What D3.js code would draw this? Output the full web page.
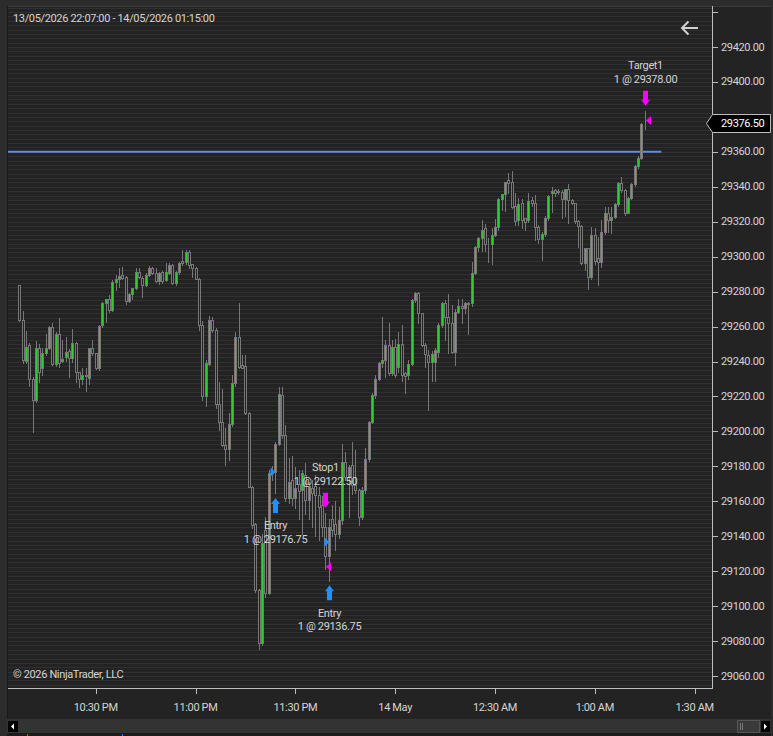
<!DOCTYPE html>
<html>
<head>
<meta charset="utf-8">
<script src="https://cdn.jsdelivr.net/npm/d3@7"></script>
<style>
  html, body { margin: 0; padding: 0; background: #2c2c2c; }
  svg { display: block; font-family: "Segoe UI", Roboto, "Noto Sans", sans-serif; }
  svg text { letter-spacing: -0.35px; }
</style>
</head>
<body>
<svg id="chart"></svg>
<script>
const width = 773, height = 736;
const plot = { left: 8, top: 6, right: 712, bottom: 688 };

// 1 minute bars, 13/05/2026 22:07 -> 14/05/2026 01:15
const startTime = new Date(2026, 4, 13, 22, 7);
const endTime = new Date(2026, 4, 14, 1, 15);

const opens = [
  29283.75, 29263.5, 29240.5, 29249.5, 29230.25, 29218.25, 29248, 29236, 29245, 29248,
  29260, 29238.5, 29256, 29240.5, 29242.75, 29246, 29241.75, 29250.5, 29233.75, 29229.75,
  29232.25, 29230.75, 29247.5, 29244.75, 29236.5, 29260.75, 29273.25, 29275.5, 29269.75, 29285.75,
  29287, 29289.5, 29288.5, 29274.75, 29278.5, 29282.25, 29291.5, 29288, 29283.75, 29289.5,
  29293.25, 29290.75, 29286.25, 29291.5, 29286.5, 29290.75, 29295.25, 29285, 29291.5, 29297.75,
  29297, 29302.75, 29295.75, 29293.25, 29287.5, 29261, 29220.25, 29238.5, 29264, 29258,
  29215.5, 29205.5, 29192.25, 29189.75, 29204.25, 29227.5, 29254.25, 29238, 29237.5, 29210.75,
  29168.25, 29147, 29109.25, 29078.75, 29143.5, 29107.25, 29176, 29176.75, 29193, 29220.75,
  29198, 29161.75, 29172, 29161.75, 29170, 29166.5, 29175, 29160.75, 29167.5, 29168.5,
  29163.5, 29157.75, 29145, 29128.75, 29150, 29147, 29141.5, 29149.25, 29182.5, 29174,
  29180.75, 29169.25, 29166.5, 29151.25, 29166.5, 29184, 29205.5, 29220.75, 29230.25, 29239,
  29240.75, 29249.5, 29233.25, 29248.5, 29237, 29250, 29233.25, 29232.25, 29238.5, 29275.25,
  29279, 29267.5, 29249.5, 29243.75, 29240, 29240, 29245.5, 29261, 29273.25, 29265.5,
  29261.75, 29245.5, 29268.5, 29271.5, 29270.5, 29273.5, 29273.25, 29290.75, 29305.25, 29310.5,
  29316.25, 29307.5, 29307.25, 29312.5, 29317.25, 29332.75, 29336, 29344, 29343, 29329,
  29321, 29330.5, 29322, 29321, 29332.5, 29330.5, 29317.25, 29310, 29313.25, 29322,
  29336.25, 29338, 29337.75, 29337.25, 29332.75, 29338.5, 29332.5, 29331, 29320.5, 29317.5,
  29296.25, 29304.75, 29288.5, 29312.5, 29299, 29297, 29314.25, 29324.75, 29321.25, 29322.5,
  29330, 29342, 29338, 29325.25, 29333.5, 29341.5, 29352, 29356.75, 29376.25
];
const highs = [
  29284, 29269, 29257.5, 29250.5, 29231, 29251.75, 29250, 29248, 29255.75, 29260.25,
  29262, 29257, 29264.75, 29252.5, 29253.75, 29247, 29258.5, 29251, 29234, 29236,
  29236.5, 29248, 29252.25, 29245, 29261, 29274, 29276, 29278, 29286.5, 29289.5,
  29293.25, 29294.25, 29289, 29279, 29282, 29293.25, 29293.25, 29289, 29290.75, 29294.5,
  29294, 29293.25, 29291, 29291.75, 29296.25, 29296.25, 29296, 29292, 29297, 29303.75,
  29303.75, 29304, 29296, 29294, 29288, 29263.25, 29240.75, 29266, 29265.5, 29259,
  29228.5, 29224, 29201.75, 29210.25, 29232.25, 29257, 29273.25, 29243.75, 29243.75, 29211,
  29169, 29147.75, 29110, 29141.5, 29151.25, 29178, 29180, 29194, 29225.5, 29225.5,
  29203.5, 29184.5, 29186, 29179.75, 29178, 29178, 29181.75, 29171.25, 29172, 29175,
  29168, 29163, 29153.5, 29150, 29158, 29160, 29157, 29193, 29188, 29181,
  29194, 29189.25, 29167, 29168, 29190.25, 29206, 29222, 29232, 29240, 29265.5,
  29252.25, 29261.75, 29252.25, 29253, 29257, 29261, 29234, 29240.75, 29276, 29279.5,
  29279.5, 29268, 29250.75, 29246.5, 29246, 29248, 29262, 29274.25, 29275, 29278.5,
  29272.25, 29270, 29276, 29276, 29274, 29274, 29297, 29306, 29311, 29321,
  29318.5, 29310.5, 29316.25, 29321.75, 29333.5, 29336, 29343, 29347.75, 29349.25, 29336.25,
  29333.5, 29332.75, 29322.25, 29336.25, 29334.25, 29335.25, 29318, 29314.25, 29323.25, 29335.25,
  29340, 29339, 29338.5, 29338, 29339, 29341.5, 29333, 29331, 29321, 29318,
  29305, 29305, 29317, 29316.25, 29311, 29321, 29328.5, 29328.5, 29328.5, 29331,
  29343, 29345.5, 29338.5, 29334, 29342, 29352.5, 29357.5, 29376.5, 29383.5
];
const lows = [
  29263.25, 29239, 29239, 29226, 29199.75, 29217, 29228.5, 29232, 29244, 29247,
  29238, 29237.5, 29237, 29239.75, 29240.5, 29231, 29240, 29228.5, 29225.25, 29227,
  29223.25, 29227, 29244, 29235.5, 29235, 29260, 29262.75, 29268.5, 29269, 29281,
  29282.75, 29287, 29272.75, 29274, 29276, 29281.75, 29288, 29276.75, 29283, 29289,
  29290, 29285.75, 29284.25, 29285, 29286, 29290, 29284.25, 29283.75, 29290, 29295,
  29296, 29293.25, 29288.5, 29287, 29258, 29218.25, 29214.75, 29238, 29257, 29213.25,
  29200.75, 29191.5, 29180.75, 29183.5, 29203, 29226, 29236, 29236, 29210, 29168,
  29144.5, 29108.25, 29075.25, 29077.75, 29105.5, 29107, 29172, 29164.5, 29192, 29196,
  29160, 29158.75, 29158, 29156, 29150, 29141.5, 29153, 29150, 29145, 29140,
  29138, 29140, 29121, 29114.5, 29140, 29132, 29139, 29147, 29172, 29151.25,
  29164, 29165, 29146.5, 29150, 29165, 29183, 29205, 29219, 29229.5, 29237,
  29231.25, 29232.25, 29232, 29231.25, 29234, 29229, 29221.75, 29230.25, 29238, 29274,
  29261.75, 29249, 29237, 29212.25, 29229, 29229, 29242.75, 29260, 29252.25, 29245,
  29245, 29238, 29268, 29261.75, 29268, 29256, 29272, 29290, 29303, 29303,
  29303, 29297, 29296, 29312, 29315.25, 29326.75, 29326.25, 29336.25, 29327.75, 29318,
  29318, 29316.25, 29315.25, 29320, 29329, 29309.5, 29308, 29298, 29312, 29321,
  29325.75, 29335, 29336, 29322, 29323, 29319, 29330, 29319, 29305.25, 29295.75,
  29292.25, 29281.25, 29287.5, 29296, 29284, 29294, 29313, 29314.25, 29313.75, 29322,
  29329, 29337, 29324, 29324.75, 29333, 29340.5, 29351, 29356, 29373
];
const closes = [
  29263.5, 29240.75, 29248.5, 29230.25, 29218.25, 29248, 29234.25, 29245, 29248, 29259.5,
  29238.5, 29255.75, 29239, 29241.5, 29245.5, 29241.75, 29250.75, 29233.75, 29229.75, 29232.25,
  29231.5, 29247.5, 29244.75, 29236, 29260.25, 29273.25, 29275.5, 29269.75, 29285.75, 29287,
  29289, 29288, 29274.75, 29278.5, 29282, 29291.5, 29288.5, 29283.5, 29289.5, 29293.25,
  29290.75, 29286.25, 29290.75, 29286.25, 29291.5, 29295.5, 29285, 29291.5, 29296.5, 29296.5,
  29302.75, 29295.25, 29293.25, 29287.5, 29261, 29220.25, 29239, 29264, 29258, 29215.5,
  29205.5, 29192.25, 29189.75, 29204.25, 29227.5, 29253.75, 29237, 29236.5, 29210.75, 29168.25,
  29146.5, 29109.25, 29078.75, 29136, 29107.75, 29176, 29177, 29193, 29221.5, 29198,
  29161.75, 29171.25, 29161.75, 29167.5, 29166, 29176, 29160.75, 29168.5, 29164.5, 29163.5,
  29157, 29145, 29128.75, 29145.5, 29143.5, 29141.5, 29149.25, 29182.5, 29174, 29179.75,
  29169.25, 29166.5, 29151.25, 29166.5, 29184, 29205.5, 29220.75, 29230.25, 29239, 29240.75,
  29249.5, 29233.25, 29248.5, 29232.25, 29250, 29232.25, 29231.5, 29238.5, 29275.25, 29279,
  29267.5, 29249.5, 29244.5, 29240, 29244.5, 29246.5, 29261, 29273.25, 29265.5, 29261.75,
  29245.5, 29268.5, 29271.5, 29270.5, 29273.5, 29273, 29290.75, 29305.25, 29310.5, 29315.25,
  29307.5, 29307, 29312.5, 29317.25, 29332.75, 29336, 29343, 29342.25, 29328.5, 29320.5,
  29330, 29321, 29320, 29332, 29330.5, 29317.25, 29310, 29313.25, 29322, 29334.75,
  29337.75, 29336.25, 29337.25, 29332.75, 29338.5, 29332.5, 29331, 29320.5, 29317.5, 29296.25,
  29304.75, 29288.5, 29312.5, 29297.5, 29297, 29314.25, 29324.75, 29321.25, 29322.5, 29330,
  29342.25, 29338, 29325.25, 29333.5, 29341.5, 29352, 29356.75, 29376, 29376.5
];

// executions (bar index, action, name, quantity, price)
const execBars = [77, 92, 93, 188];
const execSides = ["buy", "sell", "buy", "sell"];
const execNames = ["Entry", "Stop1", "Entry", "Target1"];
const execQty = [1, 1, 1, 1];
const execPrices = [29176.75, 29122.50, 29136.75, 29378.00];

// horizontal level line
const levelPrice = 29360;
const levelEnd = new Date(2026, 4, 14, 1, 20);

// axes
const yTicks = [29060, 29080, 29100, 29120, 29140, 29160, 29180, 29200, 29220, 29240,
  29260, 29280, 29300, 29320, 29340, 29360, 29380, 29400, 29420];
const yTopTick = [29440];
const xTicks = [
  new Date(2026, 4, 13, 22, 30), new Date(2026, 4, 13, 23, 0), new Date(2026, 4, 13, 23, 30),
  new Date(2026, 4, 14, 0, 0), new Date(2026, 4, 14, 0, 30), new Date(2026, 4, 14, 1, 0),
  new Date(2026, 4, 14, 1, 30)
];
const xTickLabels = ["10:30 PM", "11:00 PM", "11:30 PM", "14 May", "12:30 AM", "1:00 AM", "1:30 AM"];

const textColor = "#d4d4d4";
const axisColor = "#bdbdbd";
const wickColor = "#777777";
const upColor = "#32cd32";
const bgColor = "#232323";

const bars = opens.map((o, i) => ({
  time: d3.timeMinute.offset(startTime, i),
  open: o, high: highs[i], low: lows[i], close: closes[i]
}));

const x = d3.scaleTime().domain([startTime, endTime]).range([19.2, 644.7]);
const y = d3.scaleLinear().domain([29060, 29420]).range([676, 47]);

const svg = d3.select("#chart").attr("width", width).attr("height", height);

// frame
svg.append("rect").attr("width", width).attr("height", height).attr("fill", "#2c2c2c");
svg.append("rect").attr("x", 7).attr("y", 6).attr("width", 764).attr("height", 713).attr("fill", bgColor);
svg.append("line").attr("x1", 7).attr("x2", 771).attr("y1", 6.5).attr("y2", 6.5).attr("stroke", "#3a3a3a");
svg.append("line").attr("x1", 7.5).attr("x2", 7.5).attr("y1", 6).attr("y2", 719).attr("stroke", "#1a1a1a");

svg.append("defs").append("clipPath").attr("id", "plotclip")
  .append("rect")
  .attr("x", plot.left).attr("y", plot.top + 1)
  .attr("width", plot.right - plot.left).attr("height", plot.bottom - plot.top - 1);

// horizontal grid lines every 2.5 points
const gridVals = d3.range(29052.5, 29445, 2.5);
svg.append("g").attr("class", "grid")
  .selectAll("line")
  .data(gridVals)
  .join("line")
  .attr("x1", plot.left)
  .attr("x2", plot.right)
  .attr("y1", d => Math.round(y(d)) + 0.5)
  .attr("y2", d => Math.round(y(d)) + 0.5)
  .attr("stroke", "#303030")
  .attr("clip-path", "url(#plotclip)");

const chartG = svg.append("g").attr("clip-path", "url(#plotclip)");

// level line
chartG.append("line")
  .attr("x1", plot.left)
  .attr("x2", x(levelEnd))
  .attr("y1", y(levelPrice))
  .attr("y2", y(levelPrice))
  .attr("stroke", "#5b8fe0")
  .attr("stroke-width", 2);

// candles
const candle = chartG.append("g").attr("class", "candles")
  .selectAll("g")
  .data(bars)
  .join("g");

candle.append("line")
  .attr("x1", d => Math.round(x(d.time)) + 0.5)
  .attr("x2", d => Math.round(x(d.time)) + 0.5)
  .attr("y1", d => Math.round(y(d.high)))
  .attr("y2", d => Math.round(y(d.low)) + 1)
  .attr("stroke", wickColor);

candle.append("rect")
  .attr("x", d => Math.round(x(d.time)) - 0.5)
  .attr("width", 2)
  .attr("y", d => Math.round(y(Math.max(d.open, d.close))) + 0.5)
  .attr("height", d => Math.max(0, Math.round(y(Math.min(d.open, d.close))) - Math.round(y(Math.max(d.open, d.close)))))
  .attr("fill", d => d.close > d.open ? upColor : bgColor)
  .attr("stroke", wickColor);

// executions
const execs = execBars.map((b, i) => ({
  bar: bars[b], side: execSides[i], name: execNames[i], qty: execQty[i], price: execPrices[i]
}));

const execG = svg.append("g").attr("class", "executions");

execs.forEach(e => {
  const cx = Math.round(x(e.bar.time)) + 0.5;
  const color = e.side === "buy" ? "#1e90ff" : "#ff00ff";
  const py = y(e.price);

  // marker triangle at fill price
  if (e.side === "buy") {
    execG.append("path")
      .attr("d", `M${cx},${py} L${cx - 5},${py - 4.5} L${cx - 5},${py + 4.5} Z`)
      .attr("fill", color);
  } else {
    execG.append("path")
      .attr("d", `M${cx + 0.5},${py} L${cx + 5.5},${py - 4.5} L${cx + 5.5},${py + 4.5} Z`)
      .attr("fill", color);
  }

  // arrow
  let labelY1, labelY2;
  if (e.side === "buy") {
    const top = y(e.bar.low) + 4.5;
    execG.append("path")
      .attr("d", `M${cx},${top} L${cx + 4.5},${top + 6} L${cx + 2.5},${top + 6} L${cx + 2.5},${top + 15} ` +
                 `L${cx - 2.5},${top + 15} L${cx - 2.5},${top + 6} L${cx - 4.5},${top + 6} Z`)
      .attr("fill", color);
    labelY1 = top + 28;
    labelY2 = top + 41.5;
  } else {
    const bottom = y(e.bar.high) - 5;
    execG.append("path")
      .attr("d", `M${cx},${bottom} L${cx + 4.5},${bottom - 6} L${cx + 2.5},${bottom - 6} L${cx + 2.5},${bottom - 15} ` +
                 `L${cx - 2.5},${bottom - 15} L${cx - 2.5},${bottom - 6} L${cx - 4.5},${bottom - 6} Z`)
      .attr("fill", color);
    labelY1 = bottom - 40.5;
    labelY2 = bottom - 26.5;
  }

  execG.append("text")
    .attr("x", cx).attr("y", labelY1)
    .attr("text-anchor", "middle").attr("dominant-baseline", "central")
    .attr("fill", textColor).attr("font-size", 11)
    .text(e.name);
  execG.append("text")
    .attr("x", cx).attr("y", labelY2)
    .attr("text-anchor", "middle").attr("dominant-baseline", "central")
    .attr("fill", textColor).attr("font-size", 11)
    .text(`${e.qty} @ ${d3.format(".2f")(e.price)}`);
});

// current price
const last = bars[bars.length - 1];
const ly = Math.round(y(last.close)) + 0.5;

// y axis (right)
const yAxisG = svg.append("g").attr("class", "y-axis");
yAxisG.append("line")
  .attr("x1", plot.right + 0.5).attr("x2", plot.right + 0.5)
  .attr("y1", plot.top).attr("y2", plot.bottom + 1)
  .attr("stroke", axisColor);
yAxisG.selectAll("line.tick")
  .data(yTicks.concat(yTopTick))
  .join("line")
  .attr("class", "tick")
  .attr("x1", plot.right).attr("x2", plot.right + 6)
  .attr("y1", d => Math.round(y(d)) + 0.5)
  .attr("y2", d => Math.round(y(d)) + 0.5)
  .attr("stroke", axisColor);
// labels hidden where the price marker sits
yAxisG.selectAll("text")
  .data(yTicks.filter(d => Math.abs(y(d) - ly) > 14))
  .join("text")
  .attr("x", plot.right + 9)
  .attr("y", d => y(d))
  .attr("dominant-baseline", "central")
  .attr("fill", textColor)
  .attr("font-size", 11)
  .text(d => d3.format(".2f")(d));

// x axis (bottom)
const xAxisG = svg.append("g").attr("class", "x-axis");
xAxisG.append("line")
  .attr("x1", plot.left).attr("x2", plot.right + 1)
  .attr("y1", plot.bottom + 0.5).attr("y2", plot.bottom + 0.5)
  .attr("stroke", axisColor);
xAxisG.selectAll("line.tick")
  .data(xTicks)
  .join("line")
  .attr("class", "tick")
  .attr("x1", d => Math.round(x(d)) + 0.5)
  .attr("x2", d => Math.round(x(d)) + 0.5)
  .attr("y1", plot.bottom)
  .attr("y2", plot.bottom + 6)
  .attr("stroke", axisColor);
xAxisG.selectAll("text")
  .data(xTicks)
  .join("text")
  .attr("x", d => x(d))
  .attr("y", 707)
  .attr("text-anchor", "middle")
  .attr("dominant-baseline", "central")
  .attr("fill", textColor)
  .attr("font-size", 11)
  .text((d, i) => xTickLabels[i]);

// current price marker
svg.append("path")
  .attr("d", `M706.5,${ly} L712.5,${ly - 9} L770.5,${ly - 9} L770.5,${ly + 9} L712.5,${ly + 9} Z`)
  .attr("fill", "#000")
  .attr("stroke", "#bdbdbd");
svg.append("text")
  .attr("x", 721).attr("y", ly)
  .attr("dominant-baseline", "central")
  .attr("fill", "#ffffff")
  .attr("font-size", 11)
  .text(d3.format(".2f")(last.close));

// header, back arrow, copyright
const fmtHeader = d3.timeFormat("%d/%m/%Y %H:%M:%S");
svg.append("text")
  .attr("x", 13).attr("y", 18)
  .attr("dominant-baseline", "central")
  .attr("fill", textColor)
  .attr("font-size", 11)
  .text(`${fmtHeader(startTime)} - ${fmtHeader(endTime)}`);

svg.append("path")
  .attr("d", "M698,28 L682,28 M688.5,21.5 L682,28 L688.5,34.5")
  .attr("fill", "none")
  .attr("stroke", "#d0d0d0")
  .attr("stroke-width", 2);

svg.append("text")
  .attr("x", 13).attr("y", 674)
  .attr("dominant-baseline", "central")
  .attr("fill", textColor)
  .attr("font-size", 11)
  .text("\u00a9 2026 NinjaTrader, LLC");

// scrollbar
const sb = svg.append("g").attr("class", "scrollbar");
sb.append("rect").attr("x", 7).attr("y", 719).attr("width", 764).attr("height", 14).attr("fill", "#333333");
sb.append("rect").attr("x", 7).attr("y", 733).attr("width", 764).attr("height", 3).attr("fill", "#1c1c1c");
sb.append("rect").attr("x", 8).attr("y", 721).attr("width", 10).attr("height", 11).attr("fill", "#000");
sb.append("path").attr("d", "M11,726.5 L14,723.5 L14,729.5 Z").attr("fill", "#fff");
sb.append("rect").attr("x", 737.5).attr("y", 720.5).attr("width", 22).attr("height", 12)
  .attr("fill", "#3a3a3a").attr("stroke", "#555");
sb.append("path").attr("d", "M740.5,723 L740.5,730 M742.5,723 L742.5,730").attr("stroke", "#777");
sb.append("rect").attr("x", 761).attr("y", 721).attr("width", 9).attr("height", 11).attr("fill", "#000");
sb.append("path").attr("d", "M767,726.5 L764,723.5 L764,729.5 Z").attr("fill", "#fff");
sb.append("rect").attr("x", 27).attr("y", 734).attr("width", 1).attr("height", 2).attr("fill", "#1e90ff");
sb.append("rect").attr("x", 122).attr("y", 734).attr("width", 1).attr("height", 2).attr("fill", "#1e90ff");
</script>
</body>
</html>
